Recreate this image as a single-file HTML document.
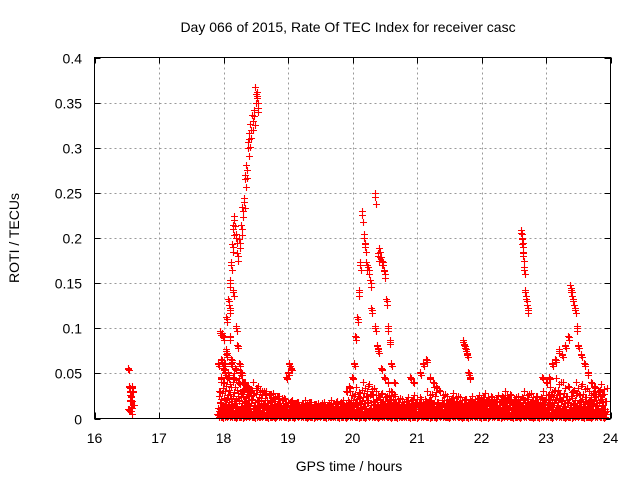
<!DOCTYPE html>
<html><head><meta charset="utf-8"><style>
html,body{margin:0;padding:0;background:#fff;}
svg{display:block;font-family:"Liberation Sans",sans-serif;}
</style></head><body>
<svg id="chart" width="640" height="480" viewBox="0 0 640 480" xmlns="http://www.w3.org/2000/svg">
<text x="348" y="32" font-size="14" text-anchor="middle">Day 066 of 2015, Rate Of TEC Index for receiver casc</text>
<text x="349" y="471" font-size="14" text-anchor="middle">GPS time / hours</text>
<text x="19" y="238" font-size="14" text-anchor="middle" transform="rotate(-90 19 238)">ROTI / TECUs</text>
<g id="grid" shape-rendering="crispEdges"></g>
<g id="ticks"></g>
<path id="pts" fill="none" stroke="#ff0000" stroke-width="1.1"/>
<rect x="94.5" y="57.5" width="516" height="361" fill="none" stroke="#000" stroke-width="1" shape-rendering="crispEdges"/>
</svg>
<script>
const xTicks=[16,17,18,19,20,21,22,23,24];
const yTicks=[0,0.05,0.1,0.15,0.2,0.25,0.3,0.35,0.4];
const yTickLabels=["0","0.05","0.1","0.15","0.2","0.25","0.3","0.35","0.4"];
// baseline band: time start, step 0.1h, several tracks of values
const bandStart=17.9;
const bandA=[0.005,0.006,0.004,0.007,0.005,0.006,0.004,0.005,0.006,0.004,0.005,0.004,0.005,0.006,0.004,0.005,0.006,0.004,0.005,0.004,0.006,0.005,0.004,0.006,0.005,0.004,0.005,0.006,0.004,0.005,0.006,0.005,0.004,0.006,0.005,0.004,0.005,0.006,0.004,0.005,0.006,0.004,0.005,0.006,0.005,0.004,0.006,0.005,0.004,0.005,0.006,0.004,0.005,0.006,0.004,0.005,0.006,0.004,0.005,0.006];
const bandB=[0.012,0.014,0.016,0.013,0.015,0.012,0.014,0.013,0.011,0.012,0.010,0.011,0.012,0.010,0.011,0.012,0.010,0.011,0.009,0.010,0.011,0.010,0.012,0.011,0.012,0.013,0.011,0.012,0.010,0.011,0.012,0.010,0.011,0.012,0.011,0.010,0.012,0.011,0.010,0.012,0.011,0.012,0.010,0.011,0.012,0.011,0.012,0.013,0.012,0.011,0.012,0.011,0.013,0.012,0.011,0.012,0.013,0.012,0.011,0.012];
const bandC=[0.025,0.03,0.035,0.028,0.032,0.03,0.034,0.03,0.027,0.025,0.02,0.018,0.017,0.016,0.018,0.016,0.017,0.015,0.016,0.018,0.02,0.025,0.028,0.03,0.026,0.022,0.024,0.02,0.018,0.019,0.02,0.018,0.022,0.02,0.018,0.02,0.022,0.019,0.02,0.021,0.022,0.024,0.02,0.022,0.025,0.022,0.02,0.024,0.022,0.02,0.024,0.026,0.03,0.028,0.025,0.03,0.026,0.024,0.028,0.03];
const bandD=[0.002,0.003,0.002,0.002,0.003,0.002,0.003,0.002,0.002,0.003,0.002,0.002,0.003,0.002,0.002,0.003,0.002,0.003,0.002,0.002,0.003,0.002,0.002,0.003,0.002,0.003,0.002,0.002,0.003,0.002,0.002,0.003,0.002,0.002,0.003,0.002,0.003,0.002,0.002,0.003,0.002,0.002,0.003,0.002,0.003,0.002,0.002,0.003,0.002,0.002,0.003,0.002,0.003,0.002,0.002,0.003,0.002,0.002,0.003,0.002];
const bandE=[0.018,0.022,0.025,0.02,0.024,0.022,0.019,0.02,0.018,0.016,0.015,0.014,0.015,0.013,0.014,0.013,0.014,0.015,0.013,0.014,0.016,0.018,0.02,0.017,0.016,0.018,0.015,0.016,0.015,0.016,0.015,0.016,0.018,0.016,0.015,0.016,0.017,0.016,0.015,0.016,0.018,0.017,0.016,0.018,0.02,0.017,0.016,0.018,0.017,0.016,0.018,0.02,0.022,0.02,0.018,0.02,0.019,0.018,0.02,0.022];
const bandF=[0.04,0.045,0.05,0.038,0.035,0.04,0.032,0.03,0.028,0.025,0.022,0.02,0.018,0.02,0.018,0.017,0.018,0.02,0.019,0.02,0.03,0.035,0.04,0.038,0.03,0.028,0.03,0.025,0.022,0.024,0.026,0.022,0.03,0.035,0.03,0.025,0.028,0.024,0.022,0.025,0.026,0.028,0.024,0.026,0.03,0.026,0.025,0.03,0.028,0.025,0.03,0.035,0.045,0.04,0.035,0.04,0.038,0.03,0.035,0.038];
const bandG=[0.009,0.01,0.009,0.008,0.009,0.01,0.008,0.009,0.008,0.007,0.008,0.007,0.008,0.007,0.008,0.007,0.008,0.007,0.008,0.007,0.008,0.009,0.008,0.009,0.008,0.009,0.008,0.007,0.008,0.009,0.008,0.007,0.008,0.009,0.008,0.007,0.008,0.009,0.008,0.009,0.008,0.007,0.008,0.009,0.008,0.009,0.008,0.009,0.008,0.007,0.008,0.009,0.01,0.009,0.008,0.009,0.008,0.009,0.01,0.009];
// event tracks: hours and roti values
const evHours=[16.52,16.54,16.55,16.56,16.57,16.58,16.59,16.6,16.53,16.56,16.58,16.55,16.57,
 17.95,17.98,18.0,18.02,18.05,18.08,18.1,18.12,18.14,18.15,18.17,18.2,18.22,18.25,18.28,18.3,18.32,18.34,18.36,18.38,18.4,18.42,18.45,18.48,18.5,18.52,18.53,
 18.0,18.05,18.1,18.15,18.2,18.22,18.25,18.28,18.3,18.35,17.92,17.97,18.03,18.08,18.12,
 17.93,17.96,18.0,18.04,18.07,18.1,18.13,18.16,18.19,18.23,18.26,18.3,18.33,18.38,18.42,
 19.0,19.02,19.05,18.98,
 19.9,19.95,20.0,20.03,20.05,20.08,20.1,20.12,20.15,20.18,20.2,20.22,20.25,20.28,20.3,20.35,20.4,20.42,20.45,20.48,20.5,20.53,20.55,20.58,20.6,20.65,
 20.3,20.35,20.38,20.4,20.45,20.5,20.55,20.6,
 21.05,21.1,21.15,21.2,21.25,21.3,20.9,20.95,
 21.72,21.74,21.76,21.78,21.8,21.82,
 22.62,22.63,22.64,22.65,22.66,22.68,22.7,22.72,
 23.05,23.1,23.15,23.2,23.25,23.3,23.35,23.38,23.4,23.42,23.45,23.48,23.5,23.55,23.6,23.65,23.7,23.75,23.0,22.95];
const evValues=[0.055,0.035,0.03,0.025,0.02,0.035,0.03,0.015,0.01,0.008,0.005,0.02,0.012,
 0.095,0.093,0.09,0.06,0.11,0.13,0.15,0.17,0.19,0.21,0.22,0.2,0.18,0.195,0.21,0.23,0.24,0.265,0.275,0.3,0.31,0.32,0.33,0.335,0.36,0.355,0.35,
 0.04,0.07,0.12,0.14,0.1,0.08,0.06,0.05,0.04,0.035,0.06,0.065,0.05,0.045,0.06,
 0.03,0.045,0.055,0.075,0.05,0.09,0.065,0.045,0.055,0.04,0.05,0.03,0.04,0.035,0.03,
 0.05,0.06,0.055,0.045,
 0.03,0.035,0.045,0.06,0.09,0.11,0.14,0.17,0.225,0.2,0.19,0.17,0.165,0.15,0.12,0.245,0.18,0.185,0.175,0.17,0.16,0.13,0.1,0.085,0.06,0.04,
 0.12,0.1,0.08,0.075,0.055,0.045,0.04,0.03,
 0.05,0.06,0.065,0.045,0.04,0.035,0.045,0.04,
 0.085,0.08,0.075,0.07,0.05,0.045,
 0.205,0.2,0.19,0.18,0.165,0.14,0.13,0.12,
 0.045,0.06,0.065,0.075,0.07,0.08,0.09,0.145,0.14,0.13,0.12,0.1,0.08,0.07,0.06,0.05,0.04,0.035,0.04,0.045];

const X0=94.5,X1=610.5,Y0=418.5,Y1=57.5;
const xs=h=>X0+(h-16)/8*(X1-X0);
const ys=v=>Y0-v/0.4*(Y0-Y1);
const NS="http://www.w3.org/2000/svg";
const grid=document.getElementById('grid'),ticks=document.getElementById('ticks');
function mk(tag,attrs,parent){const e=document.createElementNS(NS,tag);for(const k in attrs)e.setAttribute(k,attrs[k]);parent.appendChild(e);return e;}
xTicks.forEach((t,i)=>{const x=Math.round(xs(t))+0.5;
 if(i>0&&i<xTicks.length-1){const g=mk('line',{x1:x,x2:x,y1:Y1,y2:Y0,stroke:'#999','stroke-dasharray':'2,3'},grid);}
 const l=mk('line',{x1:x,x2:x,y1:Y0,y2:Y0-6,stroke:'#000'},ticks);
 const l2=mk('line',{x1:x,x2:x,y1:Y1,y2:Y1+6,stroke:'#000'},ticks);
 const tx=mk('text',{x:xs(t),y:443,'font-size':14,'text-anchor':'middle'},ticks);tx.textContent=String(t);});
yTicks.forEach((t,i)=>{const y=Math.round(ys(t))+0.5;
 if(i>0&&i<yTicks.length-1){const g=mk('line',{x1:X0,x2:X1,y1:y,y2:y,stroke:'#999','stroke-dasharray':'2,3'},grid);}
 const l=mk('line',{x1:X0,x2:X0+6,y1:y,y2:y,stroke:'#000'},ticks);
 const l2=mk('line',{x1:X1,x2:X1-6,y1:y,y2:y,stroke:'#000'},ticks);
 const tx=mk('text',{x:82,y:y+5,'font-size':14,'text-anchor':'end'},ticks);tx.textContent=yTickLabels[i];});
let d='';
function plus(h,v){const x=Math.round(xs(h))+0.5,y=Math.round(ys(v))+0.5;d+=`M${x-3.5} ${y}h7M${x} ${y-3.5}v7`;}
const bands=[bandA,bandB,bandC,bandD,bandE,bandF,bandG];
bands.forEach((tr,k)=>tr.forEach((v,i)=>{const h=bandStart+i*0.1+k*0.012;
  plus(h,v);plus(h+0.02,v*0.7);plus(h+0.04,v*0.85);plus(h+0.06,v*0.5);plus(h+0.08,v*0.9);}));
evHours.forEach((h,i)=>{const v=evValues[i];
  plus(h,v);plus(h+0.008,v*0.97);plus(h-0.006,v*1.02);});
document.getElementById('pts').setAttribute('d',d);
</script>
</body></html>
